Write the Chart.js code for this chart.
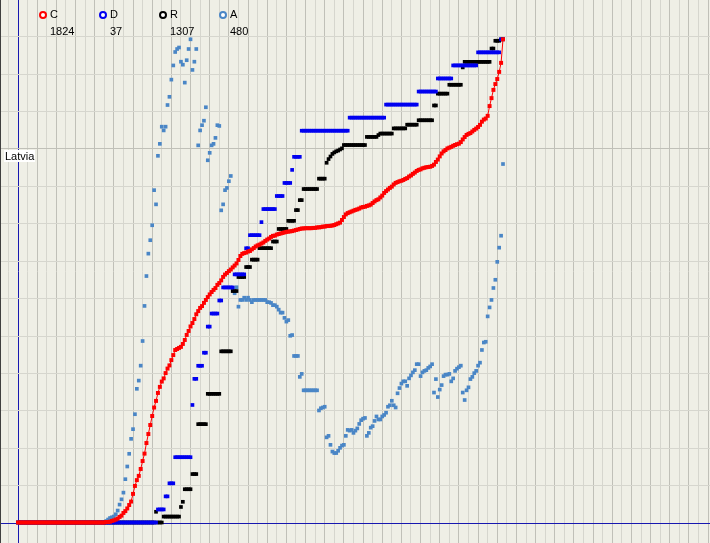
<!DOCTYPE html>
<html><head><meta charset="utf-8">
<script src="https://cdn.jsdelivr.net/npm/chart.js@4/dist/chart.umd.min.js"></script>
<style>
html,body{margin:0;padding:0;background:#efefe6;}
#wrap{position:relative;width:710px;height:543px;background:#efefe6;overflow:hidden;font-family:"Liberation Sans",Arial,sans-serif;font-size:11px;color:#000;}
#c{position:absolute;left:0;top:0;}
#frame{position:absolute;left:0;top:0;width:1px;height:543px;background:#404040;}
.dot{position:absolute;width:4px;height:4px;border-radius:50%;border:2px solid;background:#fff;}
.lab{position:absolute;line-height:13px;white-space:nowrap;}
#title{position:absolute;left:4px;top:150px;background:#fff;padding:0 1px;line-height:12px;}
</style></head>
<body><div id="wrap"><canvas id="c" width="710" height="543"></canvas><div id="frame"></div><div id="legend"></div><div id="title">Latvia</div></div>
<script>
// ---- data: one value per day (day 0 .. 253) ----
const NAMES = ['C','D','R','A'];
const C = [
0,0,0,0,0,0,0,0,0,0,
0,0,0,0,0,0,0,0,0,0,
0,0,0,0,0,0,0,0,0,0,
0,0,0,0,0,0,0,0,0,0,
0,0,0,0,0,0,2,2,3,6,
8,11,15,21,26,36,43,53,66,79,
108,138,160,176,202,232,260,300,334,368,
402,434,459,489,512,532,544,564,581,593,
613,632,651,655,659,663,674,689,708,723,
740,753,768,786,798,810,817,829,840,851,
861,870,878,885,897,904,914,927,936,942,
949,955,963,970,978,991,1006,1014,1017,1019,
1023,1025,1031,1036,1042,1046,1049,1053,1057,1063,
1068,1072,1078,1082,1083,1087,1089,1091,1093,1095,
1097,1098,1099,1100,1102,1104,1106,1108,1110,1110,
1111,1111,1111,1111,1112,1112,1114,1114,1115,1117,
1117,1119,1119,1120,1121,1123,1126,1129,1132,1142,
1153,1163,1168,1171,1174,1177,1180,1182,1185,1189,
1191,1192,1195,1197,1200,1206,1212,1217,1220,1227,
1234,1244,1251,1257,1263,1268,1276,1282,1285,1288,
1290,1293,1297,1300,1306,1310,1316,1321,1327,1331,
1333,1337,1339,1341,1342,1343,1346,1351,1361,1370,
1382,1393,1401,1406,1412,1415,1418,1422,1425,1428,
1430,1436,1446,1455,1463,1467,1470,1476,1482,1487,
1493,1501,1513,1521,1525,1535,1572,1602,1633,1655,
1674,1701,1735,1824];
const D = [
0,0,0,0,0,0,0,0,0,0,
0,0,0,0,0,0,0,0,0,0,
0,0,0,0,0,0,0,0,0,0,
0,0,0,0,0,0,0,0,0,0,
0,0,0,0,0,0,0,0,0,0,
0,0,0,0,0,0,0,0,0,0,
0,0,0,0,0,0,0,0,0,0,
0,0,0,1,1,1,1,2,2,3,
3,3,5,5,5,5,5,5,5,5,
5,9,11,11,12,12,12,13,13,15,
15,16,16,16,16,17,17,18,18,18,
18,18,18,19,19,19,19,19,19,21,
21,22,22,22,22,22,22,23,24,24,
24,24,24,24,24,25,25,25,25,26,
26,26,26,27,28,28,28,28,30,30,
30,30,30,30,30,30,30,30,30,30,
30,30,30,30,30,30,30,30,30,30,
30,30,30,31,31,31,31,31,31,31,
31,31,31,31,31,31,31,31,31,31,
31,31,32,32,32,32,32,32,32,32,
32,32,32,32,32,32,32,32,32,33,
33,33,33,33,33,33,33,33,33,34,
34,34,34,34,34,34,34,35,35,35,
35,35,35,35,35,35,35,35,35,35,
36,36,36,36,36,36,36,36,36,36,
36,36,37,37];
const R = [
0,0,0,0,0,0,0,0,0,0,
0,0,0,0,0,0,0,0,0,0,
0,0,0,0,0,0,0,0,0,0,
0,0,0,0,0,0,0,0,0,0,
0,0,0,0,0,0,0,0,0,0,
0,0,0,0,0,0,0,0,0,0,
0,0,0,0,0,0,0,0,0,0,
0,0,29,0,0,0,16,16,16,16,
16,16,16,16,16,42,56,90,90,90,
90,131,131,131,266,266,266,266,266,348,
348,348,348,348,348,348,463,463,463,463,
463,463,626,626,626,664,664,664,664,691,
691,691,711,711,711,711,742,742,742,742,
742,742,742,760,760,760,794,794,794,794,
794,816,816,816,816,845,845,872,872,902,
902,902,902,902,902,902,902,930,930,930,
930,973,983,990,997,1001,1004,1006,1009,1012,
1021,1021,1021,1021,1021,1021,1021,1021,1021,1021,
1021,1021,1043,1043,1043,1043,1043,1043,1048,1052,
1052,1052,1052,1052,1052,1052,1066,1066,1066,1066,
1066,1066,1066,1076,1076,1076,1076,1076,1076,1088,
1088,1088,1088,1088,1088,1088,1088,1128,1128,1160,
1160,1160,1160,1160,1160,1184,1184,1184,1184,1184,
1184,1184,1231,1246,1246,1246,1246,1246,1246,1246,
1246,1246,1246,1246,1246,1246,1246,1282,1282,1303,
1303,1303,1307,1307];
const A = [
0,0,0,0,0,0,0,0,0,0,
0,0,0,0,0,0,0,0,0,0,
0,0,0,0,0,0,0,0,0,0,
0,0,0,0,0,0,0,0,0,0,
0,0,0,0,0,0,2,4,6,7,
8,11,16,24,31,40,58,75,92,112,
125,145,179,190,210,243,290,330,360,378,
398,445,426,491,507,530,525,530,559,570,
593,612,630,634,636,617,613,589,619,634,
647,606,617,634,505,525,532,538,556,485,
495,505,507,515,532,531,418,426,445,448,
457,464,314,307,315,289,298,298,301,298,
301,298,295,298,298,298,298,298,298,298,
295,295,294,291,291,289,285,281,281,274,
269,271,250,251,223,223,223,195,199,177,
177,177,177,177,177,177,177,150,153,154,
155,114,116,104,95,93,93,96,100,103,
104,116,124,123,124,120,123,126,132,137,
139,140,116,120,127,129,136,142,138,138,
142,144,147,155,157,163,157,154,173,180,
186,189,189,183,193,197,201,204,212,212,
196,201,203,204,207,209,212,174,192,168,
178,184,196,198,198,199,189,193,203,206,
208,210,174,164,177,181,192,195,200,203,
210,214,231,241,242,276,288,298,314,325,
349,368,384,480];
const SERIES = [C, D, R, A];

// ---- styles / layout ----
const COLORS = ['#ff0000', '#0000f0', '#000000', '#4a86c6'];
const MAJOR = '#c0c0b8', MINOR = '#d6d6ce', AXIS = '#1818b0';
const W = 710, H = 543;
const X0 = 18, PXD = 1.917;           // pixel of day 0, pixels per day
const Y0 = 523, PXG = 37.4;           // horizontal grid: pixel of 0, spacing
const ZERO = 522.5, TOP = 39.3;       // series: pixel of 0 and of series maximum

const days = C.map((_, i) => i);
function pts(arr) { return arr.map((v, i) => ({x: days[i], y: v})); }
function seriesAxis(arr) {
  const M = Math.max(...arr), span = ZERO - TOP;
  return {type: 'linear', display: false, min: -(H - ZERO) / span * M, max: ZERO / span * M};
}

// legend (real text)
const lg = document.getElementById('legend');
NAMES.forEach((n, i) => {
  const s = SERIES[i];
  const x = 39 + 60 * i;
  lg.insertAdjacentHTML('beforeend',
    `<div class="dot" style="left:${x}px;top:11px;border-color:${COLORS[i]}"></div>` +
    `<div class="lab" style="left:${x + 11}px;top:8px">${n}</div>` +
    `<div class="lab" style="left:${x + 11}px;top:25px">${s[s.length - 1]}</div>`);
});

const gridColor = c => c.tick.value === 0 ? AXIS : (c.tick.value % 10 === 0 ? MAJOR : MINOR);

new Chart(document.getElementById('c'), {
  type: 'line',
  data: {
    datasets: NAMES.map((n, i) => ({
      label: n,
      data: pts(SERIES[i]),
      yAxisID: 'y' + n,
      showLine: i === 0,
      borderColor: COLORS[i],
      borderWidth: 1,
      tension: 0,
      pointStyle: 'rect',
      pointRadius: i === 0 ? 2.8 : 2.6,
      pointBorderWidth: 0,
      pointBackgroundColor: COLORS[i],
      clip: false
    }))
  },
  options: {
    responsive: false,
    devicePixelRatio: 1,
    animation: false,
    events: [],
    layout: {padding: 0, autoPadding: false},
    plugins: {legend: {display: false}, tooltip: {enabled: false}, title: {display: false}},
    scales: {
      x: {
        type: 'linear', position: 'bottom',
        min: -X0 / PXD, max: (W - X0) / PXD,
        border: {display: false}, ticks: {display: false},
        grid: {drawTicks: false, tickLength: 0, lineWidth: 1, color: gridColor},
        afterBuildTicks: s => { const t = []; for (let v = -5; v <= 360; v += 5) t.push({value: v}); s.ticks = t; }
      },
      y: {
        type: 'linear', position: 'left',
        min: -(H - Y0) / PXG, max: Y0 / PXG,
        border: {display: false}, ticks: {display: false},
        grid: {drawTicks: false, tickLength: 0, lineWidth: 1, color: gridColor},
        afterBuildTicks: s => { const t = []; for (let v = 0; v <= 13; v++) t.push({value: v}); s.ticks = t; }
      },
      yC: seriesAxis(C),
      yD: seriesAxis(D),
      yR: seriesAxis(R),
      yA: seriesAxis(A)
    }
  }
});
</script>
</body></html>
